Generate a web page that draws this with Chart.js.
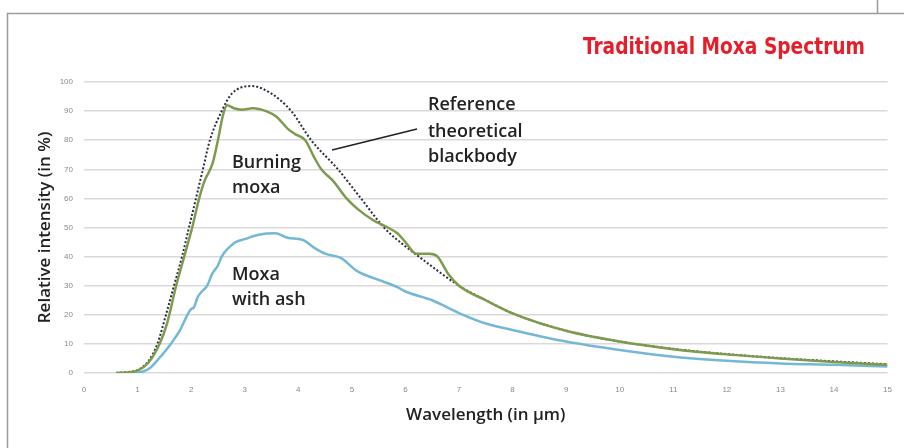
<!DOCTYPE html>
<html>
<head>
<meta charset="utf-8">
<script src="https://cdn.jsdelivr.net/npm/chart.js@4/dist/chart.umd.min.js"></script>
<style>
  html, body { margin: 0; padding: 0; background: #fff; }
  canvas { display: block; }
</style>
</head>
<body>
<canvas id="graficoEspectro" width="904" height="448"></canvas>
<script>
// valores (longitud de onda en um, intensidad en %)
const blackbodyWavelength = [0.6, 0.8, 1.0, 1.2, 1.37, 1.53, 1.68, 1.83, 1.96, 2.09, 2.22, 2.35, 2.57, 2.76, 3.13, 3.5, 3.87, 4.24, 4.74, 5.17, 5.6, 6.0, 6.25, 7.0, 7.5, 8, 9, 10, 11, 12, 13, 14, 15];
const blackbodyIntensity  = [0, 0.3, 1, 4, 10, 20, 30, 40, 50, 60, 70, 80, 90, 96, 98.6, 96, 90, 80, 70, 60, 50, 43.5, 40, 30, 25, 20.5, 14.5, 10.8, 8.3, 6.5, 5.1, 4, 3];

const burningWavelength = [0.6, 0.8, 1.0, 1.2, 1.41, 1.55, 1.72, 1.87, 2.02, 2.15, 2.25, 2.4, 2.5, 2.6, 2.67, 2.8, 2.95, 3.15, 3.4, 3.6, 3.8, 3.95, 4.13, 4.3, 4.43, 4.65, 4.9, 5.1, 5.4, 5.67, 5.85, 6.0, 6.2, 6.45, 6.6, 6.8, 7.0, 7.5, 8, 9, 10, 11, 12, 13, 14, 15];
const burningIntensity  = [0, 0.2, 0.8, 3.5, 10, 17, 30, 40, 50, 60, 66, 72, 80, 89, 92, 91, 90.5, 91, 90, 88, 84, 82, 80, 74, 70, 66, 60, 56.5, 52.5, 50, 48, 45, 41, 41, 40, 34, 30, 25, 20.5, 14.5, 10.8, 8.2, 6.4, 5, 3.8, 2.8];

const ashWavelength = [0.9, 1.1, 1.25, 1.4, 1.62, 1.8, 1.93, 2.0, 2.05, 2.12, 2.2, 2.3, 2.39, 2.5, 2.57, 2.7, 2.83, 3.0, 3.26, 3.57, 3.8, 4.09, 4.3, 4.5, 4.8, 5.1, 5.5, 5.85, 6.0, 6.5, 7.0, 7.5, 8, 9, 10, 11, 12, 13, 14, 15];
const ashIntensity  = [0, 0.5, 2, 5, 10, 15, 20, 22, 22.5, 26, 28, 30, 34, 37, 40, 43, 45, 46, 47.5, 48, 46.5, 45.7, 43, 41, 39.5, 35, 32, 29.5, 28, 25, 20.6, 17, 14.8, 10.8, 7.9, 5.6, 4.2, 3.3, 2.8, 2.2];

const xTicks = [0, 1, 2, 3, 4, 5, 6, 7, 8, 9, 10, 11, 12, 13, 14, 15];
const yTicks = [0, 10, 20, 30, 40, 50, 60, 70, 80, 90, 100];

function toPoints(xs, ys) {
    return xs.map(function(x, i) { return { x: x, y: ys[i] }; });
}

// marco, titulo y etiquetas de las curvas
const decoraciones = {
    id: 'decoraciones',
    beforeDraw: function(chart) {
        const c = chart.ctx;
        c.save();
        c.strokeStyle = '#9c9c9c';
        c.lineWidth = 1.5;
        c.beginPath();
        c.moveTo(7.5, 448); c.lineTo(7.5, 13.5); c.lineTo(904, 13.5);
        c.moveTo(877.5, 0); c.lineTo(877.5, 13.5);
        c.stroke();
        c.restore();
    },
    afterDraw: function(chart) {
        const c = chart.ctx;
        c.save();
        c.fillStyle = '#e41f2b';
        c.font = 'bold 23px "Liberation Sans Narrow", "DejaVu Sans Condensed", sans-serif';
        c.textAlign = 'right';
        c.textBaseline = 'alphabetic';
        c.fillText('Traditional Moxa Spectrum', 865, 54, 282);

        c.fillStyle = '#222';
        c.textAlign = 'left';
        c.font = '600 18px "Open Sans", sans-serif';
        c.fillText('Burning', 232, 168);
        c.fillText('moxa', 232, 193);
        c.fillText('Moxa', 232, 280);
        c.fillText('with ash', 232, 305);
        c.fillText('Reference', 428, 110);
        c.fillText('theoretical', 428, 137);
        c.fillText('blackbody', 428, 162);

        c.strokeStyle = '#222';
        c.lineWidth = 1.5;
        c.beginPath();
        c.moveTo(417, 129);
        c.lineTo(332, 150);
        c.stroke();
        c.restore();
    }
};

new Chart(document.getElementById('graficoEspectro'), {
    type: 'line',
    data: {
        datasets: [{
            label: 'Burning moxa',
            data: toPoints(burningWavelength, burningIntensity),
            borderColor: '#7d9b4e',
            borderWidth: 2.5,
            pointRadius: 0,
            cubicInterpolationMode: 'monotone'
        }, {
            label: 'Moxa with ash',
            data: toPoints(ashWavelength, ashIntensity),
            borderColor: '#74b8d6',
            borderWidth: 2.5,
            pointRadius: 0,
            cubicInterpolationMode: 'monotone'
        }, {
            label: 'Reference theoretical blackbody',
            data: toPoints(blackbodyWavelength, blackbodyIntensity),
            borderColor: '#2a2c40',
            borderWidth: 2,
            borderDash: [2, 2],
            pointRadius: 0,
            cubicInterpolationMode: 'monotone'
        }]
    },
    options: {
        responsive: false,
        animation: false,
        layout: { padding: { left: 0, right: 11, top: 82, bottom: 0 } },
        scales: {
            x: {
                type: 'linear',
                min: 0,
                max: 15,
                afterBuildTicks: function(s) { s.ticks = xTicks.map(function(v) { return { value: v }; }); },
                afterFit: function(s) { s.height = 75; },
                grid: { display: false, drawTicks: false },
                border: { display: false },
                ticks: { padding: 12, color: '#8a8a8a', font: { size: 8, family: 'Liberation Sans' } },
                title: {
                    display: true,
                    text: 'Wavelength (in µm)',
                    color: '#222',
                    padding: { top: 0, bottom: 23 },
                    font: { size: 17, weight: '600', family: 'Open Sans' }
                }
            },
            y: {
                min: 0,
                max: 100,
                afterBuildTicks: function(s) { s.ticks = yTicks.map(function(v) { return { value: v }; }); },
                afterFit: function(s) { s.width = 84; },
                grid: { color: '#d9d9d9', lineWidth: 1.5, drawTicks: false },
                border: { display: false },
                ticks: { padding: 11, color: '#8a8a8a', font: { size: 8, family: 'Liberation Sans' } },
                title: {
                    display: true,
                    text: 'Relative intensity (in %)',
                    color: '#222',
                    padding: { top: 35, bottom: 0 },
                    font: { size: 17, weight: '600', family: 'Open Sans' }
                }
            }
        },
        plugins: {
            legend: { display: false },
            tooltip: { enabled: false }
        }
    },
    plugins: [decoraciones]
});
</script>
</body>
</html>
